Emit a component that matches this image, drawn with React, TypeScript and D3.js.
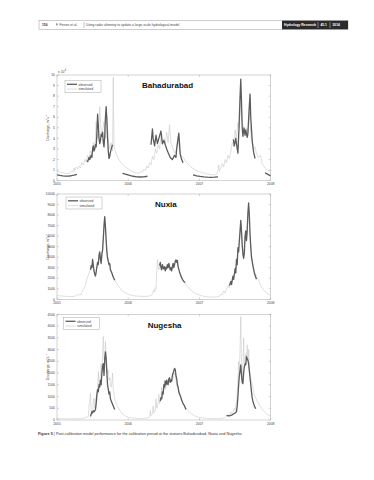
import React from "react";
import * as d3 from "d3";

type Pt = [number, number] | null;

const yearTicks = [2005, 2006, 2007, 2008];
const bahaTicks = [0, 1, 2, 3, 4, 5, 6, 7, 8, 9, 10];
const nuxiaTicks = [0, 1000, 2000, 3000, 4000, 5000, 6000, 7000, 8000, 9000, 10000];
const nugeshaTicks = [0, 500, 1000, 1500, 2000, 2500, 3000, 3500, 4000, 4500];
const legendLabels = ["observed", "simulated"];
const stationNames = ["Bahadurabad", "Nuxia", "Nugesha"];

// Bahadurabad, units of 10^4 m3/s
const bahaSim: Pt[] = [
  [2005.0, 0.95], [2005.03, 0.85], [2005.06, 0.78], [2005.1, 0.72], [2005.14, 0.68], [2005.18, 0.7],
  [2005.2, 0.9], [2005.22, 0.8], [2005.24, 1.2], [2005.25, 0.9], [2005.27, 1.3], [2005.29, 1.1],
  [2005.31, 1.4], [2005.33, 1.2], [2005.35, 1.7], [2005.37, 1.5], [2005.39, 2.0], [2005.41, 1.8],
  [2005.43, 2.4], [2005.45, 2.1], [2005.47, 2.8], [2005.49, 2.4], [2005.51, 3.6], [2005.53, 3.0],
  [2005.55, 5.6], [2005.57, 4.0], [2005.59, 5.2], [2005.6, 7.0], [2005.62, 4.5], [2005.64, 4.8],
  [2005.66, 5.6], [2005.68, 4.0], [2005.7, 6.0], [2005.72, 3.8], [2005.74, 3.0], [2005.76, 3.6],
  [2005.78, 2.8], [2005.79, 9.8], [2005.8, 3.2], [2005.83, 2.6], [2005.86, 2.1], [2005.9, 1.7],
  [2005.95, 1.35], [2006.0, 1.1], [2006.05, 0.9], [2006.1, 0.75], [2006.15, 0.7], [2006.18, 0.9],
  [2006.2, 0.8], [2006.22, 1.1], [2006.24, 0.95], [2006.26, 1.4], [2006.28, 1.2], [2006.3, 1.7],
  [2006.32, 1.5], [2006.34, 2.3], [2006.36, 2.0], [2006.38, 3.0], [2006.4, 2.6], [2006.42, 3.4],
  [2006.44, 3.0], [2006.46, 4.3], [2006.48, 3.4], [2006.5, 4.0], [2006.52, 3.5], [2006.54, 4.6],
  [2006.56, 3.6], [2006.58, 5.3], [2006.6, 3.5], [2006.62, 3.2], [2006.64, 2.8], [2006.66, 2.6],
  [2006.68, 3.2], [2006.7, 4.2], [2006.72, 2.8], [2006.74, 2.4], [2006.77, 2.2], [2006.8, 1.9],
  [2006.85, 1.5], [2006.9, 1.2], [2006.95, 1.0], [2007.0, 0.85], [2007.05, 0.75], [2007.1, 0.65],
  [2007.15, 0.58], [2007.2, 0.55], [2007.24, 0.6], [2007.26, 1.0], [2007.27, 1.5], [2007.28, 0.9],
  [2007.3, 1.2], [2007.32, 1.6], [2007.34, 1.3], [2007.36, 2.0], [2007.38, 1.7], [2007.4, 2.4],
  [2007.42, 2.1], [2007.44, 2.8], [2007.46, 3.6], [2007.48, 3.2], [2007.5, 4.8], [2007.52, 4.0],
  [2007.54, 5.5], [2007.56, 5.0], [2007.58, 8.0], [2007.6, 5.5], [2007.62, 5.0], [2007.64, 4.5],
  [2007.66, 5.0], [2007.68, 4.2], [2007.7, 6.5], [2007.72, 4.5], [2007.74, 3.5], [2007.76, 3.0],
  [2007.78, 3.2], [2007.8, 2.6], [2007.83, 2.2], [2007.86, 2.4], [2007.88, 1.6], [2007.92, 1.2],
  [2007.96, 1.0], [2008.0, 0.85],
];

const bahaObs: Pt[] = [
  [2005.0, 0.55], [2005.04, 0.5], [2005.08, 0.46], [2005.12, 0.44], [2005.16, 0.44], [2005.2, 0.47],
  [2005.24, 0.52], [2005.28, 0.6],
  null,
  [2005.42, 1.9], [2005.43, 1.8], [2005.45, 2.2], [2005.46, 2.0], [2005.48, 2.4], [2005.49, 2.2],
  [2005.5, 3.0], [2005.51, 3.3], [2005.52, 2.8], [2005.53, 3.0], [2005.54, 3.4], [2005.55, 3.2],
  [2005.56, 4.5], [2005.57, 6.3], [2005.58, 5.2], [2005.59, 4.0], [2005.6, 3.5], [2005.61, 3.8],
  [2005.62, 4.4], [2005.63, 4.2], [2005.64, 4.6], [2005.65, 3.6], [2005.66, 3.2], [2005.67, 4.2],
  [2005.68, 6.0], [2005.69, 7.0], [2005.7, 5.8], [2005.71, 4.0], [2005.72, 2.8], [2005.73, 2.1],
  [2005.74, 2.3], [2005.75, 2.7], [2005.77, 3.2], [2005.78, 3.4],
  null,
  [2005.92, 0.7], [2005.97, 0.6], [2006.02, 0.5], [2006.07, 0.42], [2006.12, 0.37], [2006.17, 0.35],
  [2006.22, 0.36], [2006.27, 0.42],
  null,
  [2006.32, 3.4], [2006.34, 4.9], [2006.35, 4.0], [2006.37, 3.3], [2006.39, 4.3], [2006.41, 3.5],
  [2006.43, 4.0], [2006.46, 4.7], [2006.48, 3.5], [2006.5, 3.8], [2006.53, 3.2], [2006.55, 2.8],
  [2006.59, 2.2], [2006.62, 2.0], [2006.65, 2.4], [2006.67, 2.2], [2006.68, 3.0], [2006.71, 4.5],
  [2006.73, 2.5], [2006.75, 2.0], [2006.77, 1.7],
  null,
  [2006.91, 0.54], [2006.96, 0.46], [2007.01, 0.4], [2007.06, 0.36], [2007.11, 0.33], [2007.16, 0.32],
  [2007.21, 0.33], [2007.26, 0.36],
  null,
  [2007.475, 3.9], [2007.49, 3.3], [2007.51, 4.0], [2007.53, 3.0], [2007.54, 2.6], [2007.555, 5.0],
  [2007.57, 8.0], [2007.58, 9.6], [2007.59, 7.5], [2007.6, 5.0], [2007.61, 4.2], [2007.625, 5.0],
  [2007.64, 4.3], [2007.65, 4.8], [2007.67, 4.1], [2007.68, 4.5], [2007.695, 6.5], [2007.71, 8.2],
  [2007.72, 6.0], [2007.74, 3.8], [2007.76, 2.7], [2007.78, 2.1],
  null,
  [2007.92, 0.75], [2007.96, 0.6], [2008.0, 0.45],
];

// Nuxia, m3/s
const nuxiaSim: Pt[] = [
  [2005.0, 350], [2005.05, 320], [2005.1, 290], [2005.15, 270], [2005.2, 260], [2005.25, 280],
  [2005.28, 450], [2005.3, 350], [2005.32, 500], [2005.34, 420], [2005.36, 900], [2005.38, 1000],
  [2005.4, 1400], [2005.42, 1900], [2005.44, 2300], [2005.46, 2700], [2005.48, 3000], [2005.5, 3600],
  [2005.52, 2600], [2005.54, 2300], [2005.56, 3000], [2005.58, 3400], [2005.6, 4300], [2005.62, 3600],
  [2005.64, 4600], [2005.66, 6800], [2005.67, 7700], [2005.68, 6700], [2005.7, 4600], [2005.72, 3700],
  [2005.74, 3300], [2005.76, 2700], [2005.78, 2300], [2005.8, 2000], [2005.83, 1600], [2005.86, 1300],
  [2005.9, 900], [2005.95, 650], [2006.0, 480], [2006.05, 380], [2006.1, 320], [2006.15, 290],
  [2006.2, 270], [2006.25, 280], [2006.3, 320], [2006.33, 400], [2006.36, 900], [2006.37, 700],
  [2006.38, 1100], [2006.39, 1000], [2006.4, 2600], [2006.41, 3800], [2006.42, 3200], [2006.43, 2800],
  [2006.45, 3300], [2006.47, 2900], [2006.49, 3100], [2006.51, 2800], [2006.53, 3200], [2006.55, 3000],
  [2006.57, 3300], [2006.59, 2900], [2006.61, 3000], [2006.63, 3300], [2006.65, 3400], [2006.67, 3700],
  [2006.69, 3500], [2006.71, 2900], [2006.73, 2400], [2006.75, 2100], [2006.78, 1700], [2006.82, 1300],
  [2006.86, 1000], [2006.9, 750], [2006.95, 530], [2007.0, 400], [2007.05, 300], [2007.1, 250],
  [2007.15, 220], [2007.2, 210], [2007.25, 230], [2007.28, 300], [2007.3, 500], [2007.32, 400],
  [2007.34, 800], [2007.36, 600], [2007.38, 1000], [2007.4, 1300], [2007.42, 1100], [2007.44, 1600],
  [2007.46, 1800], [2007.48, 2100], [2007.5, 2700], [2007.52, 3500], [2007.54, 4600], [2007.56, 5300],
  [2007.58, 7200], [2007.6, 5000], [2007.62, 3800], [2007.64, 5900], [2007.66, 5500], [2007.68, 8000],
  [2007.69, 8900], [2007.71, 6000], [2007.73, 4200], [2007.75, 3300], [2007.77, 2700], [2007.8, 2200],
  [2007.83, 1800], [2007.86, 1300], [2007.9, 900], [2007.95, 550], [2008.0, 350],
];

const nuxiaObs: Pt[] = [
  [2005.47, 2800], [2005.48, 3200], [2005.49, 3000], [2005.5, 3800], [2005.51, 3200], [2005.52, 2700],
  [2005.53, 2400], [2005.54, 2200], [2005.55, 2600], [2005.56, 3100], [2005.57, 3500], [2005.58, 3300],
  [2005.59, 4200], [2005.6, 4500], [2005.61, 3800], [2005.62, 3400], [2005.63, 4300], [2005.64, 4700],
  [2005.65, 5800], [2005.66, 7000], [2005.67, 7850], [2005.68, 6900], [2005.69, 5600], [2005.7, 4500],
  [2005.71, 3900], [2005.72, 3600], [2005.73, 3300], [2005.74, 3400], [2005.75, 2800], [2005.77, 2500],
  [2005.79, 2100], [2005.81, 1800],
  null,
  [2006.44, 3200], [2006.45, 3500], [2006.46, 3000], [2006.47, 2800], [2006.48, 3300], [2006.49, 3000],
  [2006.5, 2900], [2006.51, 3100], [2006.52, 2700], [2006.53, 3000], [2006.54, 2900], [2006.55, 3300],
  [2006.56, 3000], [2006.57, 3400], [2006.58, 3100], [2006.59, 2800], [2006.6, 3000], [2006.61, 2700],
  [2006.62, 3100], [2006.63, 3400], [2006.64, 3000], [2006.65, 3300], [2006.66, 3600], [2006.67, 3750],
  [2006.68, 3500], [2006.69, 3700], [2006.7, 3100], [2006.72, 2600], [2006.74, 2200], [2006.76, 1900],
  [2006.78, 1700], [2006.8, 1600],
  null,
  [2007.42, 1300], [2007.44, 1700], [2007.45, 1400], [2007.47, 2200], [2007.48, 1900], [2007.5, 2900],
  [2007.51, 2500], [2007.52, 3800], [2007.53, 3300], [2007.54, 4900], [2007.55, 4500], [2007.56, 5600],
  [2007.57, 6500], [2007.58, 7500], [2007.59, 6500], [2007.6, 5200], [2007.61, 4300], [2007.62, 3900],
  [2007.63, 4400], [2007.64, 6000], [2007.65, 6500], [2007.66, 5600], [2007.67, 6500], [2007.68, 8200],
  [2007.69, 9150], [2007.7, 8000], [2007.71, 6200], [2007.72, 5000], [2007.73, 4000], [2007.75, 3200],
  [2007.77, 2500], [2007.79, 2100], [2007.8, 1900],
];

// Nugesha, m3/s
const nugeshaSim: Pt[] = [
  [2005.0, 60], [2005.1, 50], [2005.2, 45], [2005.3, 50], [2005.38, 80], [2005.42, 120],
  [2005.44, 150], [2005.45, 600], [2005.47, 1130], [2005.48, 400], [2005.49, 250], [2005.5, 350],
  [2005.51, 800], [2005.52, 920], [2005.53, 500], [2005.54, 700], [2005.55, 1000], [2005.56, 800],
  [2005.57, 1300], [2005.58, 2060], [2005.59, 1600], [2005.6, 1500], [2005.61, 2000], [2005.62, 2400],
  [2005.63, 2000], [2005.64, 2800], [2005.65, 3550], [2005.66, 2600], [2005.67, 2500], [2005.68, 3340],
  [2005.69, 2800], [2005.7, 2300], [2005.71, 2000], [2005.72, 2130], [2005.73, 1700], [2005.74, 1800],
  [2005.75, 1500], [2005.76, 1400], [2005.77, 1600], [2005.78, 2000], [2005.79, 1300], [2005.81, 900],
  [2005.84, 650], [2005.88, 420], [2005.92, 260], [2005.96, 170], [2006.0, 120], [2006.05, 90],
  [2006.1, 75], [2006.15, 65], [2006.2, 60], [2006.25, 70], [2006.28, 100], [2006.3, 130],
  [2006.31, 400], [2006.32, 180], [2006.34, 250], [2006.35, 600], [2006.36, 300], [2006.38, 400],
  [2006.39, 900], [2006.4, 500], [2006.42, 700], [2006.43, 1100], [2006.44, 700], [2006.46, 1000],
  [2006.47, 1400], [2006.48, 1000], [2006.5, 1300], [2006.51, 1700], [2006.52, 1300], [2006.54, 1500],
  [2006.55, 1700], [2006.57, 1600], [2006.59, 1700], [2006.61, 1600], [2006.63, 1800], [2006.65, 2000],
  [2006.66, 1900], [2006.68, 1500], [2006.7, 1300], [2006.72, 1100], [2006.74, 900], [2006.77, 700],
  [2006.8, 550], [2006.84, 400], [2006.88, 280], [2006.93, 180], [2007.0, 110], [2007.1, 70],
  [2007.2, 55], [2007.3, 60], [2007.35, 90], [2007.38, 150], [2007.4, 130], [2007.42, 200],
  [2007.44, 350], [2007.45, 250], [2007.47, 300], [2007.49, 500], [2007.5, 400], [2007.52, 800],
  [2007.53, 1200], [2007.54, 1800], [2007.55, 2500], [2007.56, 2000], [2007.57, 3000], [2007.58, 4400],
  [2007.59, 2500], [2007.6, 1800], [2007.61, 2200], [2007.62, 3480], [2007.63, 2500], [2007.64, 2400],
  [2007.65, 2800], [2007.66, 2600], [2007.67, 3200], [2007.68, 2500], [2007.69, 3000], [2007.7, 2100],
  [2007.72, 1800], [2007.74, 1500], [2007.76, 1200], [2007.78, 1000], [2007.81, 800], [2007.85, 600],
  [2007.9, 380], [2007.95, 240], [2008.0, 170],
];

const nugeshaObs: Pt[] = [
  [2005.47, 150], [2005.48, 250], [2005.49, 350], [2005.5, 300], [2005.51, 400], [2005.52, 350],
  [2005.53, 380], [2005.54, 450], [2005.55, 700], [2005.56, 1100], [2005.57, 1300], [2005.58, 1200],
  [2005.59, 1500], [2005.6, 1400], [2005.61, 1700], [2005.62, 1500], [2005.63, 2000], [2005.64, 2300],
  [2005.65, 2400], [2005.66, 1900], [2005.67, 2600], [2005.68, 2900], [2005.69, 2600], [2005.7, 2000],
  [2005.71, 1500], [2005.72, 1300], [2005.73, 1100], [2005.74, 1200], [2005.75, 900], [2005.77, 750],
  [2005.79, 600], [2005.81, 450],
  null,
  [2006.45, 800], [2006.46, 950], [2006.47, 900], [2006.48, 1200], [2006.49, 1100], [2006.5, 1500],
  [2006.51, 1400], [2006.52, 1650], [2006.53, 1500], [2006.54, 1700], [2006.55, 1550], [2006.56, 1500],
  [2006.57, 1750], [2006.58, 1800], [2006.59, 1600], [2006.6, 1700], [2006.61, 1650], [2006.62, 1900],
  [2006.63, 2000], [2006.64, 2100], [2006.65, 2200], [2006.66, 2150], [2006.67, 1900], [2006.68, 1750],
  [2006.69, 1500], [2006.7, 1400], [2006.71, 1200], [2006.72, 1100], [2006.73, 1050], [2006.75, 850],
  [2006.77, 700], [2006.79, 600], [2006.81, 450],
  null,
  [2007.38, 200], [2007.42, 180], [2007.46, 220], [2007.5, 300], [2007.52, 350], [2007.53, 600],
  [2007.54, 1000], [2007.55, 1500], [2007.56, 1900], [2007.57, 2100], [2007.58, 2350], [2007.59, 1900],
  [2007.6, 1600], [2007.61, 1550], [2007.62, 2000], [2007.63, 2250], [2007.64, 2400], [2007.65, 2350],
  [2007.66, 2700], [2007.67, 2600], [2007.68, 2550], [2007.69, 2400], [2007.7, 2100], [2007.71, 1800],
  [2007.72, 1500], [2007.73, 1200], [2007.74, 950], [2007.75, 800], [2007.77, 600], [2007.79, 480],
];

const FONT = "'Liberation Sans', Arial, sans-serif";
const PLOT_LEFT = 57;
const PLOT_RIGHT = 270.7;
const OBS_COLOR = "#5c5c5c";
const SIM_COLOR = "#c4c4c4";
const AXIS_COLOR = "#a8a8a8";
const TEXT_COLOR = "#444";

interface PanelProps {
  top: number;
  bottom: number;
  ticks: number[];
  obs: Pt[];
  sim: Pt[];
  title: string;
  titleX: number;
  titleY: number;
  legendX: number;
  legendY: number;
  multiplier?: boolean;
}

function Panel(p: PanelProps) {
  const x = d3.scaleLinear().domain([yearTicks[0], yearTicks[yearTicks.length - 1]]).range([PLOT_LEFT, PLOT_RIGHT]);
  const y = d3.scaleLinear().domain([p.ticks[0], p.ticks[p.ticks.length - 1]]).range([p.bottom, p.top]);
  const line = d3
    .line<Pt>()
    .defined((d) => d !== null)
    .x((d) => x((d as [number, number])[0]))
    .y((d) => y((d as [number, number])[1]));
  const tl = 2;
  const clipId = "clip" + p.title;
  const midY = (p.top + p.bottom) / 2;
  return (
    <g>
      <defs>
        <clipPath id={clipId}>
          <rect x={PLOT_LEFT} y={p.top} width={PLOT_RIGHT - PLOT_LEFT} height={p.bottom - p.top} />
        </clipPath>
      </defs>
      <rect x={PLOT_LEFT} y={p.top} width={PLOT_RIGHT - PLOT_LEFT} height={p.bottom - p.top} fill="#fff" stroke={AXIS_COLOR} strokeWidth={0.5} />
      {p.ticks.map((t) => (
        <g key={"y" + t}>
          <line x1={PLOT_LEFT} x2={PLOT_LEFT + tl} y1={y(t)} y2={y(t)} stroke={AXIS_COLOR} strokeWidth={0.5} />
          <line x1={PLOT_RIGHT} x2={PLOT_RIGHT - tl} y1={y(t)} y2={y(t)} stroke={AXIS_COLOR} strokeWidth={0.5} />
          <text x={PLOT_LEFT - 2} y={y(t) + 1.2} fontSize={3.4} textAnchor="end" fill={TEXT_COLOR} fontFamily={FONT}>
            {t}
          </text>
        </g>
      ))}
      {yearTicks.map((t) => (
        <g key={"x" + t}>
          <line x1={x(t)} x2={x(t)} y1={p.bottom} y2={p.bottom - tl} stroke={AXIS_COLOR} strokeWidth={0.5} />
          <line x1={x(t)} x2={x(t)} y1={p.top} y2={p.top + tl} stroke={AXIS_COLOR} strokeWidth={0.5} />
          <text x={x(t)} y={p.bottom + 4.6} fontSize={3.4} textAnchor="middle" fill={TEXT_COLOR} fontFamily={FONT}>
            {t}
          </text>
        </g>
      ))}
      {p.multiplier && (
        <text x={PLOT_LEFT + 1} y={p.top - 2.5} fontSize={3.4} fill={TEXT_COLOR} fontFamily={FONT}>
          x 10<tspan dy={-1.5} fontSize={2.6}>4</tspan>
        </text>
      )}
      <text
        transform={`translate(${PLOT_LEFT - 8.5},${midY}) rotate(-90)`}
        fontSize={3.5}
        textAnchor="middle"
        fill={TEXT_COLOR}
        fontFamily={FONT}
      >
        Discharge, m<tspan dy={-1.3} fontSize={2.5}>3</tspan>
        <tspan dy={1.3}>s</tspan>
        <tspan dy={-1.3} fontSize={2.5}>-1</tspan>
      </text>
      <g clipPath={`url(#${clipId})`}>
        <path d={line(p.sim) || ""} fill="none" stroke={SIM_COLOR} strokeWidth={0.55} strokeLinejoin="round" />
        <path d={line(p.obs) || ""} fill="none" stroke={OBS_COLOR} strokeWidth={1.3} strokeLinejoin="round" />
      </g>
      <rect x={p.legendX} y={p.legendY} width={36} height={12} fill="#fff" stroke={AXIS_COLOR} strokeWidth={0.5} />
      <line x1={p.legendX + 2} x2={p.legendX + 12} y1={p.legendY + 3.8} y2={p.legendY + 3.8} stroke={OBS_COLOR} strokeWidth={1.3} />
      <line x1={p.legendX + 2} x2={p.legendX + 12} y1={p.legendY + 8.6} y2={p.legendY + 8.6} stroke={SIM_COLOR} strokeWidth={0.6} />
      <text x={p.legendX + 13.5} y={p.legendY + 5} fontSize={3.4} fill={TEXT_COLOR} fontFamily={FONT}>
        {legendLabels[0]}
      </text>
      <text x={p.legendX + 13.5} y={p.legendY + 9.8} fontSize={3.4} fill={TEXT_COLOR} fontFamily={FONT}>
        {legendLabels[1]}
      </text>
      <text x={p.titleX} y={p.titleY} fontSize={8} fontWeight="bold" fill="#111" fontFamily={FONT}>
        {p.title}
      </text>
    </g>
  );
}

export default function App() {
  return (
    <svg
      width={374}
      height={480}
      viewBox="0 0 374 480"
      style={{ position: "absolute", left: 0, top: 0, background: "#fff" }}
      fontFamily={FONT}
    >
      <rect x={0} y={0} width={374} height={480} fill="#fff" />
      {/* header */}
      <rect x={39} y={20.7} width={309} height={8.6} fill="#fff" stroke="#999" strokeWidth={0.5} />
      <rect x={282} y={20.7} width={66} height={8.6} fill="#2b2b2b" />
      <text x={42} y={26.2} fontSize={3.3} fontWeight="bold" fill="#333">156</text>
      <text x={56} y={26.2} fontSize={3.3} fill="#444">F. Finsen et al.</text>
      <line x1={84} x2={84} y1={22} y2={28} stroke="#666" strokeWidth={0.4} />
      <text x={86} y={26.2} fontSize={3.3} fill="#444">Using radar altimetry to update a large-scale hydrological model</text>
      <text x={284} y={26.2} fontSize={3.3} fontWeight="bold" fill="#fff">Hydrology Research</text>
      <line x1={318} x2={318} y1={22} y2={28} stroke="#fff" strokeWidth={0.4} />
      <text x={320.5} y={26.2} fontSize={3.3} fontWeight="bold" fill="#fff">45.1</text>
      <line x1={330} x2={330} y1={22} y2={28} stroke="#fff" strokeWidth={0.4} />
      <text x={332.5} y={26.2} fontSize={3.3} fontWeight="bold" fill="#fff">2014</text>

      <Panel top={75} bottom={180.7} ticks={bahaTicks} obs={bahaObs} sim={bahaSim} title={stationNames[0]}
        titleX={142} titleY={88.3} legendX={65} legendY={80.5} multiplier />
      <Panel top={194} bottom={299.3} ticks={nuxiaTicks} obs={nuxiaObs} sim={nuxiaSim} title={stationNames[1]}
        titleX={155} titleY={206.7} legendX={66} legendY={197} />
      <Panel top={314.3} bottom={420} ticks={nugeshaTicks} obs={nugeshaObs} sim={nugeshaSim} title={stationNames[2]}
        titleX={147.7} titleY={327.5} legendX={63.5} legendY={317.5} />

      <text x={38} y={434.5} fontSize={3.8} fill="#333">
        <tspan fontWeight="bold">Figure 5</tspan>
        <tspan> | Post-calibration model performance for the calibration period at the stations Bahadurabad, Nuxia and Nugesha</tspan>
      </text>
    </svg>
  );
}
